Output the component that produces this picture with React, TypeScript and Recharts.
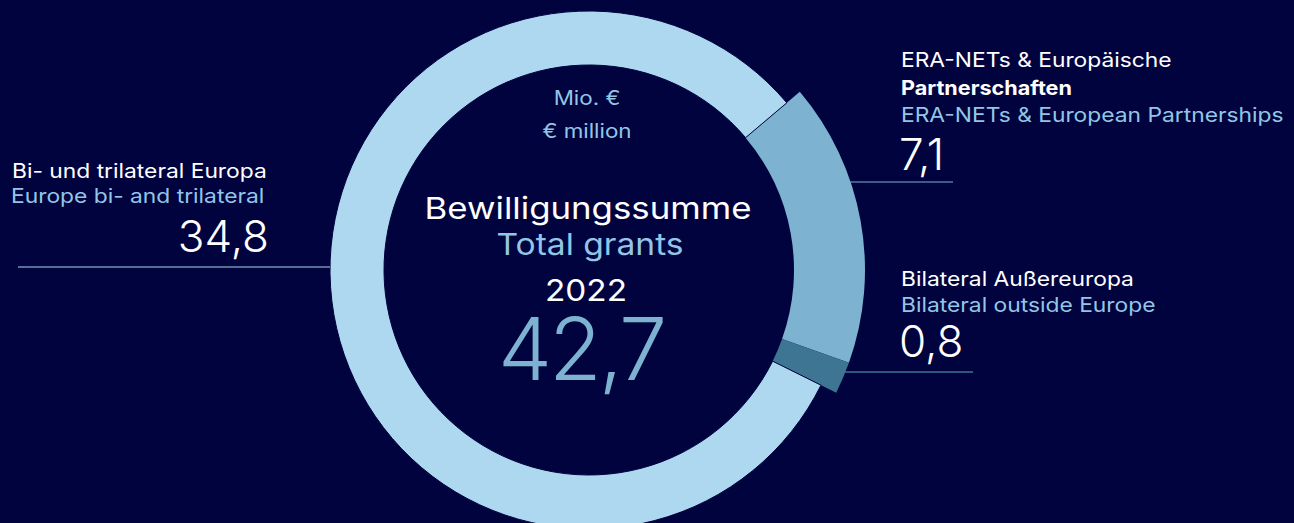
import { Cell, Pie, PieChart } from "recharts";

// Mio. €, Bewilligungssumme 2022
const categories = [
  "ERA-NETs & Europäische Partnerschaften",
  "Bilateral Außereuropa",
  "Bi- und trilateral Europa",
];
const values = [7.1, 0.8, 34.8];
const total = 42.7;

const BG = "#01033f";
const LIGHT = "#add8ef";
const MID = "#7db3d0";
const DARK = "#3e7592";
const TEXT_BLUE = "#93c6e6";
const FONT = "Inter, 'Noto Sans', sans-serif";

const W = 1294;
const H = 523;
const CX = 589;
const CY = 270;
const R_IN = 205;
const R_OUT = 259;
const R_OUT_HI = 276;

const data = categories.map((name, i) => ({ name, value: values[i] }));
const fmt = (v: number) => v.toFixed(1).replace(".", ",");

// the print font is wider than Inter, so stretch labels a bit
function T({ x, y, sx = 1.14, children, ...rest }: any) {
  return (
    <text transform={`translate(${x} ${y}) scale(${sx} 1)`} {...rest}>
      {children}
    </text>
  );
}

export default function App() {
  return (
    <div style={{ position: "absolute", left: 0, top: 0, width: W, height: H, background: BG, overflow: "hidden" }}>
      <PieChart width={W} height={H} margin={{ top: 0, right: 0, bottom: 0, left: 0 }}>
        {/* highlighted segments sit slightly outside the ring */}
        <Pie
          data={data}
          dataKey="value"
          nameKey="name"
          cx={CX}
          cy={CY}
          innerRadius={R_IN}
          outerRadius={R_OUT_HI}
          startAngle={40.2}
          endAngle={-319.8}
          stroke="none"
          isAnimationActive={false}
        >
          <Cell fill={MID} />
          <Cell fill={DARK} />
          <Cell fill="none" />
        </Pie>
        <Pie
          data={data}
          dataKey="value"
          nameKey="name"
          cx={CX}
          cy={CY}
          innerRadius={R_IN}
          outerRadius={R_OUT}
          startAngle={40.2}
          endAngle={-319.8}
          stroke="none"
          isAnimationActive={false}
        >
          <Cell fill="none" />
          <Cell fill="none" />
          <Cell fill={LIGHT} stroke={BG} strokeWidth={1} />
        </Pie>
      </PieChart>

      <svg width={W} height={H} style={{ position: "absolute", left: 0, top: 0 }} fontFamily={FONT}>
        {/* centre */}
        <g textAnchor="middle">
          <T x={587} y={105} sx={1.12} fontSize={20} fill={TEXT_BLUE}>Mio. €</T>
          <T x={587} y={138} sx={1.12} fontSize={20} fill={TEXT_BLUE}>€ million</T>
          <T x={588} y={219} sx={1.16} fontSize={30} fill="#fff">Bewilligungssumme</T>
          <T x={590} y={255} sx={1.12} fontSize={30} fill={TEXT_BLUE}>Total grants</T>
          <T x={586} y={301} sx={1.11} fontSize={30} fill="#fff">2022</T>
          <text x={581} y={380} fontSize={86} fontWeight={300} letterSpacing={-3} fill={MID}>{fmt(total)}</text>
        </g>

        {/* left label */}
        <T x={12} y={178} fontSize={20} fill="#fff">Bi- und trilateral Europa</T>
        <T x={11} y={203} fontSize={20} fill={TEXT_BLUE}>Europe bi- and trilateral</T>
        <text x={269} y={252} fontSize={44} fontWeight={300} fill="#fff" textAnchor="end">{fmt(values[2])}</text>
        <line x1={18} y1={267} x2={CX - R_OUT} y2={267} stroke={LIGHT} strokeWidth={1} />

        {/* right top label */}
        <T x={901} y={67} fontSize={20} fill="#fff">ERA-NETs &amp; Europäische</T>
        <T x={901} y={95} sx={1.08} fontSize={20} fontWeight={700} fill="#fff">Partnerschaften</T>
        <T x={901} y={122} fontSize={20} fill={TEXT_BLUE}>ERA-NETs &amp; European Partnerships</T>
        <text x={899} y={170} fontSize={44} fontWeight={300} fill="#fff">{fmt(values[0])}</text>
        <line x1={850} y1={182} x2={953} y2={182} stroke={MID} strokeWidth={1} />

        {/* right bottom label */}
        <T x={901} y={286} fontSize={20} fill="#fff">Bilateral Außereuropa</T>
        <T x={901} y={312} fontSize={20} fill={TEXT_BLUE}>Bilateral outside Europe</T>
        <text x={899} y={357} fontSize={44} fontWeight={300} fill="#fff">{fmt(values[1])}</text>
        <line x1={844} y1={372} x2={973} y2={372} stroke={DARK} strokeWidth={1.5} />
      </svg>
    </div>
  );
}
